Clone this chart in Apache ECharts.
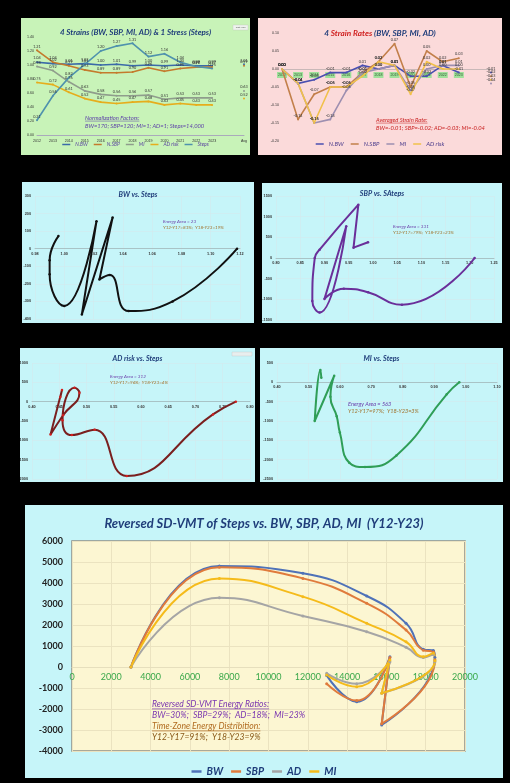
<!DOCTYPE html>
<html><head><meta charset="utf-8">
<script src="https://cdn.jsdelivr.net/npm/echarts/dist/echarts.min.js"></script>
<style>
html,body{margin:0;padding:0;background:#000;width:510px;height:783px;overflow:hidden;}
.p{position:absolute;}
</style></head><body>
<div id="p1" class="p" style="left:21px;top:18px;width:229px;height:137px"></div>
<div id="p2" class="p" style="left:258px;top:18px;width:244px;height:137px"></div>
<div id="p3" class="p" style="left:22px;top:182px;width:232px;height:141px"></div>
<div id="p4" class="p" style="left:262px;top:183px;width:240px;height:140px"></div>
<div id="p5" class="p" style="left:20px;top:348px;width:235px;height:134px"></div>
<div id="p6" class="p" style="left:260px;top:348px;width:243px;height:134px"></div>
<div id="p7" class="p" style="left:25px;top:505px;width:478px;height:273px"></div>
<script>
// ---------- DATA ----------
const years = ['2012','2013','2014','2015','2016','2017','2018','2019','2020','2021','2022','2023','','Avg'];
// Panel 1: normalized strains & stress
const nBW1   = [1.04,1.02,1.01,1.02,1.00,1.01,0.99,1.00,0.99,1.00,0.99,0.99,null,1.01];
const nSBP1  = [1.21,1.04,0.99,0.93,0.89,0.89,0.90,0.96,0.91,0.95,0.97,0.97,null,0.99];
const mi1    = [0.98,0.92,0.76,0.63,0.58,0.56,0.56,0.57,0.51,0.53,0.53,0.53,null,0.63];
const ad1    = [0.75,0.72,0.61,0.52,0.47,0.45,0.47,0.48,0.43,0.45,0.43,0.43,null,0.52];
const steps1 = [0.21,0.56,0.82,1.01,1.20,1.27,1.31,1.12,1.16,1.04,0.98,0.95,null,null];
// Panel 2: strain rates
const nBW2  = [0.00,-0.04,-0.03,-0.01,-0.01,0.01,0.00,0.01,-0.02,-0.02,0.01,-0.01,null,-0.01];
const nSBP2 = [0.00,-0.14,-0.07,-0.05,-0.05,-0.01,0.02,0.07,-0.05,0.05,0.02,0.03,null,-0.02];
const mi2   = [0.00,-0.04,-0.15,-0.14,-0.06,-0.01,0.00,0.01,-0.06,0.00,0.01,0.01,null,-0.04];
const ad2   = [0.00,-0.04,-0.15,-0.05,-0.05,-0.02,0.02,0.01,-0.07,0.02,0.00,0.00,null,-0.03];
// Panel 3: BW vs Steps
const bwX = [1.118,1.074,1.044,1.031,1.024,1.033,1.012,1.022,1.000,0.990,0.990,0.996];
const bwY = [0,-300,-355,-150,-175,177,-374,157,-326,-146,-65,72];
// Panel 4: SBP vs Steps
const sbpX = [1.21,1.06,0.99,0.94,0.90,0.945,0.89,0.875,0.88,0.89,0.97,0.96,0.99];
const sbpY = [0,-1130,-830,-745,-990,770,-1320,-1040,0,200,1290,250,380];
// Panel 5: AD risk vs Steps
const adX = [0.774,0.732,0.574,0.515,0.473,0.456,0.478,0.487,0.457,0.434,0.455,0.452];
const adY = [0,-330,-1920,-725,-865,-480,360,230,-350,-850,300,120];
// Panel 6: MI vs Steps
const miX = [0.98,0.94,0.78,0.68,0.63,0.60,0.59,0.57,0.582,0.52,0.538,0.541];
const miY = [0,-310,-1890,-2190,-2080,-1300,-880,-370,170,-1000,320,120];
// Panel 7: Reversed SD-VMT
const vmtX   = [3000,7500,11750,15000,17000,17880,18390,18470,15760,16180,14490,12960];
const vmtBW  = [0,4810,4460,3380,2080,840,780,450,-2760,490,-1650,-400];
const vmtSBP = [0,4750,4220,3030,1760,800,720,350,-2700,450,-1600,-800];
const vmtAD  = [0,3300,2430,1680,940,450,600,250,-1250,250,-800,-300];
const vmtMI  = [0,4220,3350,2080,1200,490,650,300,-1250,330,-940,-380];

// ---------- HELPERS ----------
const FONT = 'Lato';
const CYAN = '#c6f5f9';
const mctx = document.createElement('canvas').getContext('2d');
function tw(text, font){ mctx.font = font; return mctx.measureText(text).width; }
function txt(x, y, text, size, color, opts){
  opts = opts || {};
  const font = 'italic ' + (opts.bold ? 'bold ' : '') + size + 'px ' + FONT;
  const els = [{type:'text', x:x, y:y, z:100, style:{text:text, fill:color, font:font, textVerticalAlign:'top', verticalAlign:'top'}}];
  if (opts.underline){
    const w = tw(text, font);
    els.push({type:'line', z:100, shape:{x1:x, y1:y+size+0.3, x2:x+w, y2:y+size+0.3}, style:{stroke:color, lineWidth:Math.max(0.5, size/12)}});
  }
  return els;
}
function pairs(xs, ys){ return xs.map((x,i)=>[x, ys[i]]); }
function init(id){ return echarts.init(document.getElementById(id), null, {renderer:'canvas'}); }
function panelH(id){ return document.getElementById(id).clientHeight; }
// offset that moves a bottom x axis up to the y=0 level of its grid
function zeroOff(id, grid, ymin, ymax){
  const h = panelH(id) - grid.top - grid.bottom;
  return -(0 - ymin) / (ymax - ymin) * h;
}
const plain = v => String(v);
const titleStyle = (s)=>({fontFamily:FONT, fontStyle:'italic', fontWeight:'bold', fontSize:s, color:'#1f3d7a'});

// ---------- PANEL 1 ----------
(function(){
  const cols = {bw:'#3b6aa8', sbp:'#c47a2c', mi:'#8f9d8c', ad:'#e6ad1c', st:'#4f92ad'};
  const lab = {show:true, position:'top', distance:1, fontSize:3.8, color:'#333', fontFamily:FONT, formatter:p=>p.value==null?'':(+p.value).toFixed(2)};
  const mk = (name, data, c)=>({name, type:'line', data, symbol:'circle', symbolSize:2, lineStyle:{width:1.6, color:c}, itemStyle:{color:c}, label:lab, connectNulls:false});
  init('p1').setOption({
    backgroundColor:'#c8f3b8', animation:false,
    title:{text:'4 Strains (BW, SBP, MI, AD) & 1 Stress (Steps)', left:'center', top:5, textStyle:titleStyle(8)},
    grid:{left:16, right:6, top:19, bottom:20, outerBoundsMode:'none'},
    legend:{bottom:3, itemWidth:8, itemHeight:1.5, itemGap:6, icon:'rect', textStyle:{fontSize:5, fontStyle:'italic', color:'#5b45a0', fontFamily:FONT}},
    xAxis:{type:'category', data:years, boundaryGap:false, axisLine:{lineStyle:{color:'#aab'}}, axisTick:{show:false}, axisLabel:{fontSize:3.6, color:'#333', margin:4, interval:0}},
    yAxis:{type:'value', min:0, max:1.4, interval:0.2, axisLine:{show:false}, axisTick:{show:false}, axisLabel:{fontSize:3.6, color:'#333', margin:3, formatter:v=>v.toFixed(2)}, splitLine:{show:false}},
    series:[mk('N.BW', nBW1, cols.bw), mk('N.SBP', nSBP1, cols.sbp), mk('MI', mi1, cols.mi), mk('AD risk', ad1, cols.ad), mk('Steps', steps1, cols.st)],
    graphic:[].concat(
      txt(64, 97, 'Normalization Factors:', 5.8, '#5b3fa8', {underline:true}),
      txt(64, 105, 'BW=170; SBP=120; MI=1; AD=1; Steps=14,000', 5.8, '#5b3fa8'),
      [{type:'rect', z:90, shape:{x:212, y:7, width:15, height:5}, style:{fill:'#eef3ee', stroke:'#bbb', lineWidth:0.3}},
       {type:'text', z:100, x:219.5, y:9.5, style:{text:'Plot Area', font:'2.4px '+FONT, fill:'#555', textAlign:'center', textVerticalAlign:'middle', align:'center', verticalAlign:'middle'}}]
    )
  });
})();

// ---------- PANEL 2 ----------
(function(){
  const cols = {bw:'#4a4fb0', sbp:'#c27f4a', mi:'#9d8fb0', ad:'#f1c04a'};
  const lab = {show:true, position:'top', distance:1, fontSize:3.8, color:'#333', fontFamily:FONT, formatter:p=>p.value==null?'':(+p.value).toFixed(2)};
  const mk = (name, data, c)=>({name, type:'line', data, symbol:'circle', symbolSize:2, lineStyle:{width:1.6, color:c}, itemStyle:{color:c}, label:lab});
  const grid = {left:24, right:11, top:15, bottom:14, outerBoundsMode:'none'};
  init('p2').setOption({
    backgroundColor:'#fbdada', animation:false,
    title:{text:'{b|4 }{r|Strain Rates}{b| (BW, SBP, MI, AD)}', left:'center', top:6,
      textStyle:{rich:{b:titleStyle(8.2), r:Object.assign(titleStyle(8.2), {color:'#d02020'})}}},
    grid:grid,
    legend:{bottom:3, itemWidth:8, itemHeight:1.5, itemGap:7, icon:'rect', textStyle:{fontSize:6, fontStyle:'italic', color:'#4b3c8c', fontFamily:FONT}},
    xAxis:{type:'category', data:years, boundaryGap:false, offset:zeroOff('p2', grid, -0.2, 0.1),
      axisLine:{onZero:false, lineStyle:{color:'#c9b8b8'}}, axisTick:{show:false},
      axisLabel:{interval:0, margin:3, formatter:v=>(v===''||v==='Avg')?'':'{g|'+v+'}', rich:{g:{fontSize:3.6, color:'#335533', backgroundColor:'#9fe09a', padding:[1,1]}}}},
    yAxis:{type:'value', min:-0.2, max:0.1, interval:0.05, axisLine:{show:false}, axisTick:{show:false}, axisLabel:{fontSize:3.6, color:'#333', margin:3, formatter:v=>v.toFixed(2)}, splitLine:{show:false}},
    series:[mk('N.BW', nBW2, cols.bw), mk('N.SBP', nSBP2, cols.sbp), mk('MI', mi2, cols.mi), mk('AD risk', ad2, cols.ad)],
    graphic:[].concat(
      txt(118, 99, 'Averaged Strain Rate:', 5.8, '#c81e1e', {underline:true}),
      txt(118, 107, 'BW=-0.01; SBP=-0.02; AD=-0.03; MI=-0.04', 5.8, '#c81e1e')
    )
  });
})();

// ---------- PANELS 3-6 ----------
function phase(id, cfg){
  const grid = Object.assign({outerBoundsMode:'none'}, cfg.grid);
  init(id).setOption({
    backgroundColor:CYAN, animation:false,
    title:{text:cfg.title, left:'center', top:cfg.titleTop, textStyle:titleStyle(7.2)},
    grid:grid,
    xAxis:{type:'value', min:cfg.xmin, max:cfg.xmax, interval:cfg.xint, offset:zeroOff(id, grid, cfg.ymin, cfg.ymax),
      axisLine:{onZero:false, lineStyle:{color:'#a9c3c6'}}, axisTick:{show:false},
      axisLabel:{fontSize:3.8, color:'#333', margin:3, fontWeight:'bold', formatter:v=>v.toFixed(2)},
      splitLine:{show:true, lineStyle:{color:'#d4eaed', width:0.6}}},
    yAxis:{type:'value', min:cfg.ymin, max:cfg.ymax, interval:cfg.yint,
      axisLine:{show:false}, axisTick:{show:false},
      axisLabel:{fontSize:3.8, color:'#333', margin:4, fontWeight:'bold', formatter:plain},
      splitLine:{show:true, lineStyle:{color:'#d4eaed', width:0.6}}},
    series:[{type:'line', data:cfg.data, smooth:0.5, symbol:'circle', symbolSize:2.5,
      lineStyle:{width:2, color:cfg.color}, itemStyle:{color:cfg.marker||cfg.color}}],
    graphic:[].concat(
      txt(cfg.tx, cfg.ty, cfg.t1, cfg.ts, '#6a3aa8'),
      txt(cfg.tx, cfg.ty+cfg.ts+1.5, cfg.t2, cfg.ts, '#a0702a'),
      cfg.extra || []
    )
  });
}
phase('p3', {title:'BW vs. Steps', titleTop:4, grid:{left:13, right:14, top:14, bottom:4},
  xmin:0.98, xmax:1.12, xint:0.02, ymin:-400, ymax:300, yint:100, data:pairs(bwX,bwY), color:'#111',
  tx:141, ty:37, ts:4.6, t1:'Energy Area = 23', t2:'Y12-Y17=81%;  Y18-Y23=19%'});
phase('p4', {title:'SBP vs. SAteps', titleTop:2, grid:{left:14, right:8, top:13, bottom:3},
  xmin:0.80, xmax:1.25, xint:0.05, ymin:-1500, ymax:1500, yint:500, data:pairs(sbpX,sbpY), color:'#6a2f9a',
  tx:131, ty:41, ts:4.6, t1:'Energy Area = 331', t2:'Y12-Y17=79%;  Y18-Y23=21%'});
phase('p5', {title:'AD risk vs. Steps', titleTop:2, grid:{left:12, right:5, top:15, bottom:3},
  xmin:0.40, xmax:0.80, xint:0.05, ymin:-2000, ymax:1000, yint:500, data:pairs(adX,adY), color:'#7a1f1f', marker:'#d42020',
  tx:90, ty:26, ts:4.6, t1:'Energy Area = 312', t2:'Y12-Y17=96%;  Y18-Y23=4%',
  extra:[{type:'rect', z:90, shape:{x:212, y:4, width:20, height:4}, style:{fill:'#e8eeee', stroke:'#bbb', lineWidth:0.3}}]});
phase('p6', {title:'MI vs. Steps', titleTop:2, grid:{left:17, right:6, top:15, bottom:3},
  xmin:0.40, xmax:1.10, xint:0.1, ymin:-2500, ymax:500, yint:500, data:pairs(miX,miY), color:'#2f9e57',
  tx:88, ty:53, ts:5.6, t1:'Energy Area = 563', t2:'Y12-Y17=97%;  Y18-Y23=3%'});

// ---------- PANEL 7 ----------
(function(){
  const cols = {bw:'#4f72b8', sbp:'#e07b3c', ad:'#a5a5a5', mi:'#f5bb1a'};
  const mk = (name, ys, c)=>({name, type:'line', data:pairs(vmtX, ys), smooth:0.5, symbol:'circle', symbolSize:3,
    lineStyle:{width:2, color:c}, itemStyle:{color:c}});
  const grid = {left:47, right:38, top:36, bottom:27, show:true, backgroundColor:'#fcf6d2', borderColor:'#8f8f86', borderWidth:1.5, outerBoundsMode:'none'};
  init('p7').setOption({
    backgroundColor:CYAN, animation:false,
    title:{text:'Reversed SD-VMT of Steps vs. BW, SBP, AD, MI  (Y12-Y23)', left:'center', top:7, textStyle:titleStyle(13)},
    grid:grid,
    legend:{top:256, left:'center', itemWidth:10, itemHeight:2.5, itemGap:8, icon:'rect', data:['BW','SBP','AD','MI'],
      textStyle:{fontSize:10.5, fontStyle:'italic', fontWeight:'bold', color:'#1f3d7a', fontFamily:FONT}},
    xAxis:{type:'value', min:0, max:20000, interval:2000, offset:zeroOff('p7', grid, -4000, 6000),
      axisLine:{onZero:false, lineStyle:{color:'#e6dfbd'}}, axisTick:{show:false},
      axisLabel:{fontSize:9, color:'#3aa84a', margin:6, fontFamily:FONT, formatter:plain}, splitLine:{lineStyle:{color:'#ebe3c0', width:1}}},
    yAxis:{type:'value', min:-4000, max:6000, interval:1000, axisLine:{show:false}, axisTick:{show:false},
      axisLabel:{fontSize:9, color:'#222', fontWeight:'bold', margin:9, fontFamily:FONT, formatter:plain}, splitLine:{lineStyle:{color:'#ebe3c0', width:1}}},
    series:[mk('BW', vmtBW, cols.bw), mk('SBP', vmtSBP, cols.sbp), mk('AD', vmtAD, cols.ad), mk('MI', vmtMI, cols.mi)],
    graphic:[].concat(
      txt(127, 195, 'Reversed SD-VMT Energy Ratios:', 8.6, '#7a35b0', {underline:true}),
      txt(127, 206, 'BW=30%;  SBP=29%;  AD=18%;  MI=23%', 8.6, '#7a35b0'),
      txt(127, 217, 'Time-Zone Energy Distribition:', 8.6, '#b06a1e', {underline:true}),
      txt(127, 228, 'Y12-Y17=91%;  Y18-Y23=9%', 8.6, '#8a5a18')
    )
  });
})();
</script>
</body></html>
